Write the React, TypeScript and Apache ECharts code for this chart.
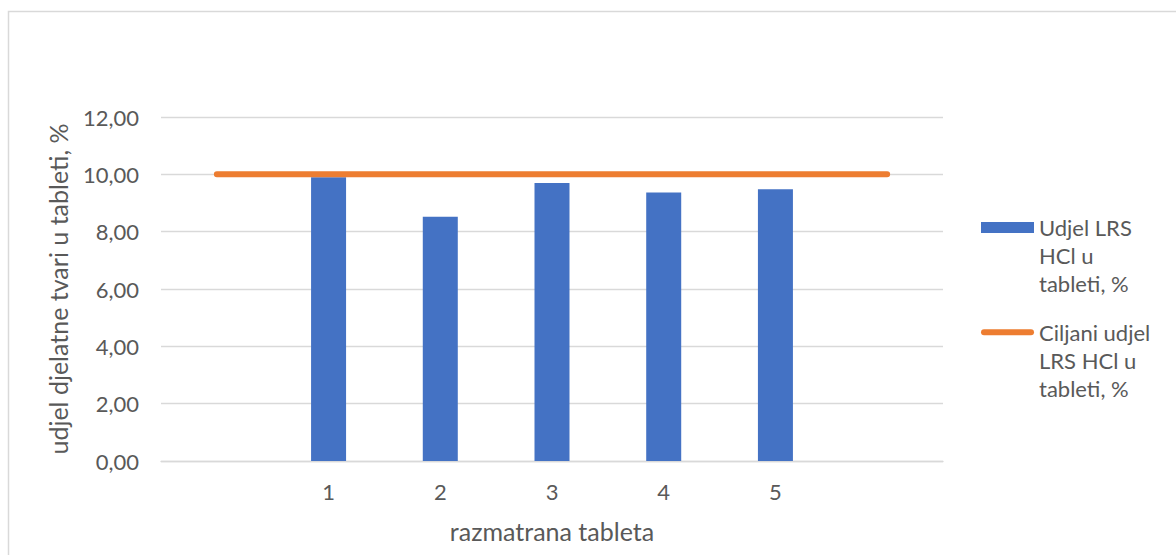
import React, { useEffect, useRef } from "react";
import * as echarts from "echarts";

const categories = ["", "1", "2", "3", "4", "5", ""];
const barValues: (number | null)[] = [null, 9.9, 8.52, 9.7, 9.37, 9.48, null];
const targetValues = [10, 10, 10, 10, 10, 10, 10];
const yTicks = { min: 0, max: 12, interval: 2 };
const barName = "Udjel LRS HCl u tableti, %";
const lineName = "Ciljani udjel LRS HCl u tableti, %";
const barLegendLines = ["Udjel LRS", "HCl u", "tableti, %"];
const lineLegendLines = ["Ciljani udjel", "LRS HCl u", "tableti, %"];
const xTitle = "razmatrana tableta";
const yTitle = "udjel djelatne tvari u tableti, %";

const FONT = "Lato";
const TXT = "#595959";
const FS = 22;
const TFS = 25;

// two empty lines on top so that the first text line sits beside the icon
const legendLabel = (lines: string[]) => "\n\n" + lines.join("\n");

export default function App() {
  const ref = useRef<HTMLDivElement>(null);
  useEffect(() => {
    if (!ref.current) return;
    const chart = echarts.init(ref.current, undefined, { renderer: "svg" });
    const legendText = {
      color: TXT,
      fontFamily: FONT,
      fontSize: FS,
      lineHeight: 28,
    };
    chart.setOption({
      animation: false,
      backgroundColor: "#ffffff",
      textStyle: { fontFamily: FONT },
      grid: { left: 161, right: 233, top: 117, bottom: 94, containLabel: false },
      xAxis: {
        type: "category",
        data: categories,
        boundaryGap: true,
        axisLine: { show: true, lineStyle: { color: "#d9d9d9", width: 1.3 } },
        axisTick: { show: false },
        axisLabel: { color: TXT, fontSize: FS, fontFamily: FONT, margin: 19 },
        name: xTitle,
        nameLocation: "middle",
        nameGap: 57,
        nameTextStyle: { color: TXT, fontSize: TFS, fontFamily: FONT },
      },
      yAxis: {
        type: "value",
        min: yTicks.min,
        max: yTicks.max,
        interval: yTicks.interval,
        axisLine: { show: false },
        axisTick: { show: false },
        splitLine: { lineStyle: { color: "#d9d9d9", width: 1.3 } },
        axisLabel: {
          color: TXT,
          fontSize: FS,
          fontFamily: FONT,
          margin: 22,
          formatter: (v: number) => v.toFixed(2).replace(".", ","),
        },
        name: yTitle,
        nameLocation: "middle",
        nameRotate: 90,
        nameGap: 91,
        nameTextStyle: { color: TXT, fontSize: TFS, fontFamily: FONT },
      },
      legend: [
        {
          data: [{ name: barName, icon: "rect" }],
          left: 981,
          top: 157.5,
          padding: 0,
          itemWidth: 53,
          itemHeight: 11,
          formatter: () => legendLabel(barLegendLines),
          textStyle: legendText,
          selectedMode: false,
        },
        {
          data: [
            {
              name: lineName,
              icon: "path://M3,0 H50 A3,3 0 0 1 50,6 H3 A3,3 0 0 1 3,0 Z",
            },
          ],
          left: 981,
          top: 262.3,
          padding: 0,
          itemWidth: 53,
          itemHeight: 6,
          formatter: () => legendLabel(lineLegendLines),
          textStyle: legendText,
          selectedMode: false,
        },
      ],
      graphic: [
        {
          type: "rect",
          shape: { x: 8.5, y: 11.5, width: 1200, height: 600 },
          style: { fill: "none", stroke: "#d9d9d9", lineWidth: 1.5 },
          silent: true,
          z: -10,
        },
      ],
      series: [
        {
          name: barName,
          type: "bar",
          data: barValues,
          barWidth: 35,
          itemStyle: { color: "#4472C4" },
        },
        {
          name: lineName,
          type: "line",
          data: targetValues,
          symbol: "none",
          z: 5,
          itemStyle: { color: "#ED7D31" },
          lineStyle: { color: "#ED7D31", width: 6, cap: "round" },
        },
      ],
    });
    return () => chart.dispose();
  }, []);
  return (
    <div
      ref={ref}
      style={{ position: "absolute", left: 0, top: 0, width: 1176, height: 555 }}
    />
  );
}
